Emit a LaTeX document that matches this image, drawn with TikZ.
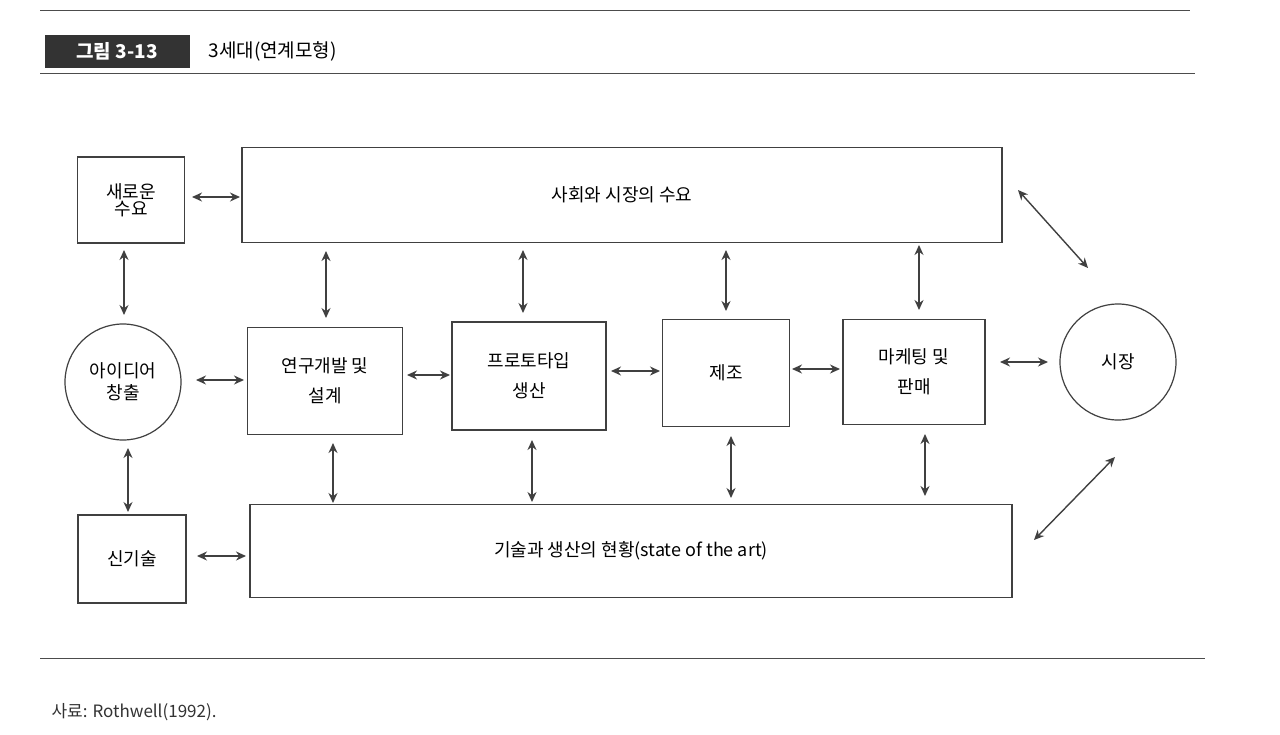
\documentclass[tikz,border=0pt]{standalone}
\usepackage{fontspec}
\setmainfont{Noto Sans CJK KR}
\usetikzlibrary{arrows.meta}
\begin{document}
\begin{tikzpicture}[x=1pt,y=-1pt,
  bx/.style={draw=black!75,line width=1.2pt,inner sep=0pt,align=center,font=\fontsize{18}{22}\selectfont},
  cir/.style={draw=black!75,line width=1.2pt,circle,inner sep=0pt,align=center,font=\fontsize{18}{22}\selectfont},
  da/.style={{Stealth[length=10pt,width=9pt]}-{Stealth[length=10pt,width=9pt]},line width=1.4pt,black!75}]
\useasboundingbox (0,0) rectangle (1280,734);
\fill[white] (0,0) rectangle (1280,734);
\draw[black!70,line width=1pt] (40,10) -- (1190,10);
\draw[black!70,line width=1pt] (40,73) -- (1195,73);
\node[fill=black!80,text=white,minimum width=145pt,minimum height=33pt,inner sep=0pt,font=\fontsize{19}{22}\selectfont\bfseries] (hd) at (117,51) {그림 3-13};
\node[anchor=west,font=\fontsize{19}{22}\selectfont] (tt) at (205,51) {3세대(연계모형)};
\node[bx,minimum width=107pt,minimum height=86pt] (nd) at (131,200) {새로운\\[-5pt]수요};
\node[bx,minimum width=760pt,minimum height=95pt] (sm) at (622,195) {사회와 시장의 수요};
\node[cir,minimum size=116pt] (id) at (123,382) {아이디어\\창출};
\node[bx,minimum width=155pt,minimum height=107pt] (rd) at (325,381) {연구개발 및\\[8pt]설계};
\node[bx,minimum width=154pt,minimum height=108pt] (pt) at (529,376) {프로토타입\\[8pt]생산};
\node[bx,minimum width=127pt,minimum height=107pt] (mf) at (726,373) {제조};
\node[bx,minimum width=142pt,minimum height=105pt] (mk) at (914,372) {마케팅 및\\[8pt]판매};
\node[cir,minimum size=116pt] (mt) at (1118,362) {시장};
\node[bx,minimum width=108pt,minimum height=88pt] (nt) at (132,559) {신기술};
\node[bx,minimum width=762pt,minimum height=93pt] (ts) at (631,551) {기술과 생산의 현황(state of the art)};
\draw[black!70,line width=1pt] (40,658) -- (1205,658);
\node[anchor=west,font=\fontsize{17}{20}\selectfont,black!80] (src) at (48,712) {사료: Rothwell(1992).};
\draw[da] (192,197) -- (240,197);
\draw[da] (196,380) -- (244,380);
\draw[da] (407,375) -- (450,375);
\draw[da] (611,371) -- (660,371);
\draw[da] (792,369) -- (840,369);
\draw[da] (1000,362) -- (1048,362);
\draw[da] (197,556) -- (246,556);
\draw[da] (124,250) -- (124,315);
\draw[da] (128,448) -- (128,512);
\draw[da] (326,251) -- (326,318);
\draw[da] (523,250) -- (523,313);
\draw[da] (726,250) -- (726,311);
\draw[da] (919,245) -- (919,310);
\draw[da] (333,443) -- (333,503);
\draw[da] (532,440) -- (532,502);
\draw[da] (731,436) -- (731,498);
\draw[da] (925,434) -- (925,496);
\draw[da] (1018,190) -- (1088,268);
\draw[da] (1034,540) -- (1115,457);
\end{tikzpicture}
\end{document}
